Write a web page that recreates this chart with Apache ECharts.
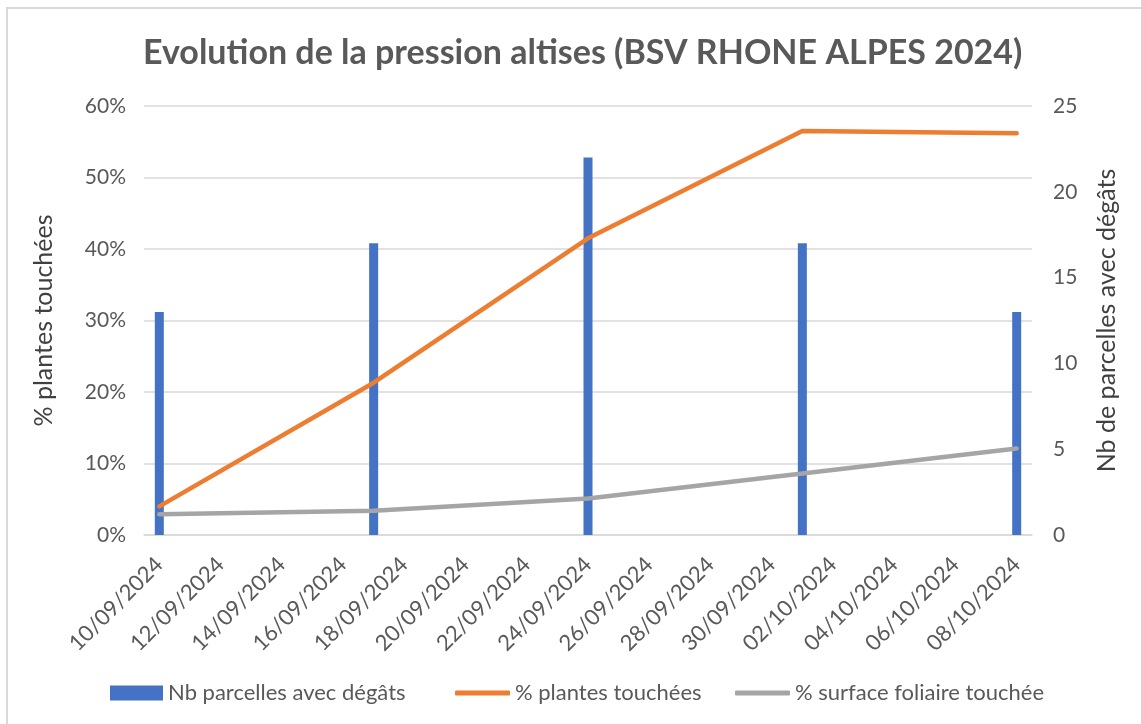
<!DOCTYPE html>
<html>
<head>
<meta charset="utf-8">
<script src="https://cdn.jsdelivr.net/npm/echarts@6/dist/echarts.min.js"></script>
<style>
html,body{margin:0;padding:0;background:#fff;overflow:hidden}
#frame{position:absolute;left:6px;top:7px;width:1200px;height:800px;border:2px solid #d9d9d9;box-sizing:border-box}
#chart{position:absolute;left:0;top:0;width:1141px;height:724px}
</style>
</head>
<body>
<div id="frame"></div>
<div id="chart"></div>
<script>
const dates = ['10/09/2024','11/09/2024','12/09/2024','13/09/2024','14/09/2024','15/09/2024','16/09/2024','17/09/2024','18/09/2024','19/09/2024','20/09/2024','21/09/2024','22/09/2024','23/09/2024','24/09/2024','25/09/2024','26/09/2024','27/09/2024','28/09/2024','29/09/2024','30/09/2024','01/10/2024','02/10/2024','03/10/2024','04/10/2024','05/10/2024','06/10/2024','07/10/2024','08/10/2024'];
const obsDates = ['10/09/2024','17/09/2024','24/09/2024','01/10/2024','08/10/2024'];
const nbParcelles = [13, 17, 22, 17, 13];
const pctPlantes = [4.0, 21.3, 41.5, 56.5, 56.2];
const pctSurface = [2.9, 3.4, 5.1, 8.6, 12.1];

const pair = (vals) => obsDates.map((d, i) => [d, vals[i]]);
const FONT = 'Lato';
const TXT = '#595959';

const chart = echarts.init(document.getElementById('chart'), null, {renderer: 'canvas'});
chart.setOption({
  animation: false,
  backgroundColor: 'transparent',
  textStyle: {fontFamily: FONT},
  title: {
    text: 'Evolution de la pression altises (BSV RHONE ALPES 2024)',
    left: 138, top: 31,
    textStyle: {fontFamily: FONT, fontSize: 34, fontWeight: 'bold', color: TXT}
  },
  legend: [
    {data: [{name: 'Nb parcelles avec dégâts', icon: 'rect'}], left: 110, top: 682, padding: 0, itemWidth: 53, itemHeight: 15, itemGap: 6,
     textStyle: {fontFamily: FONT, fontSize: 22, color: TXT}},
    {data: [{name: '% plantes touchées', icon: 'roundRect'}], left: 455, top: 682, padding: 0, itemWidth: 55, itemHeight: 5, itemGap: 6,
     textStyle: {fontFamily: FONT, fontSize: 22, color: TXT}},
    {data: [{name: '% surface foliaire touchée', icon: 'roundRect'}], left: 735, top: 682, padding: 0, itemWidth: 55, itemHeight: 5, itemGap: 6,
     textStyle: {fontFamily: FONT, fontSize: 22, color: TXT}}
  ],
  grid: {left: 144, right: 109, top: 106, bottom: 189, containLabel: false},
  xAxis: {
    type: 'category',
    data: dates,
    boundaryGap: true,
    axisLine: {lineStyle: {color: '#d9d9d9', width: 1.5}},
    axisTick: {interval: 1, length: 7, lineStyle: {color: '#d9d9d9', width: 1.5}},
    axisLabel: {interval: 1, rotate: 45, margin: 26, fontFamily: FONT, fontSize: 22, color: TXT}
  },
  yAxis: [
    {
      type: 'value', min: 0, max: 60, interval: 10,
      name: '% plantes touchées', nameLocation: 'middle', nameGap: 88, nameRotate: 90,
      nameTextStyle: {fontFamily: FONT, fontSize: 25, color: '#404040'},
      axisLabel: {formatter: '{value}%', margin: 18, fontFamily: FONT, fontSize: 21, color: TXT},
      axisLine: {show: false}, axisTick: {show: false},
      splitLine: {lineStyle: {color: '#d9d9d9', width: 1.5}}
    },
    {
      type: 'value', min: 0, max: 25, interval: 5,
      name: 'Nb de parcelles avec dégâts', nameLocation: 'middle', nameGap: 62, nameRotate: 90,
      nameTextStyle: {fontFamily: FONT, fontSize: 25, color: '#404040'},
      axisLabel: {margin: 21, fontFamily: FONT, fontSize: 21, color: TXT},
      axisLine: {show: false}, axisTick: {show: false},
      splitLine: {show: false}
    }
  ],
  series: [
    {
      name: 'Nb parcelles avec dégâts', type: 'bar', yAxisIndex: 1,
      data: pair(nbParcelles), barWidth: 9,
      itemStyle: {color: '#4472C4'}, z: 1
    },
    {
      name: '% plantes touchées', type: 'line', yAxisIndex: 0,
      data: pair(pctPlantes), smooth: false, symbol: 'none',
      lineStyle: {color: '#ED7D31', width: 4.5, cap: 'round', join: 'round'},
      itemStyle: {color: '#ED7D31'}, z: 3
    },
    {
      name: '% surface foliaire touchée', type: 'line', yAxisIndex: 0,
      data: pair(pctSurface), smooth: false, symbol: 'none',
      lineStyle: {color: '#A5A5A5', width: 4.5, cap: 'round', join: 'round'},
      itemStyle: {color: '#A5A5A5'}, z: 2
    }
  ]
});
</script>
</body>
</html>
